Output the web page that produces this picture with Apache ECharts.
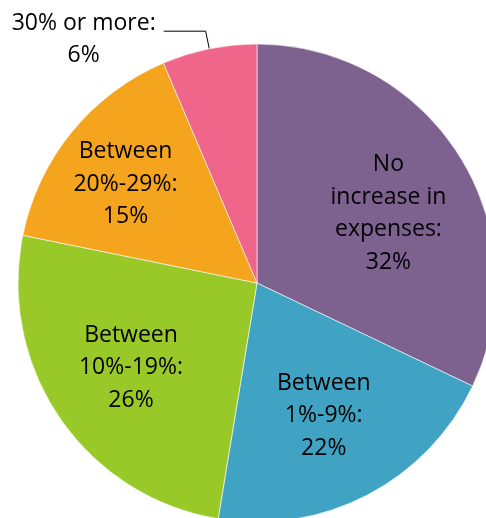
<!DOCTYPE html>
<html>
<head>
<meta charset="utf-8">
<script src="https://cdn.jsdelivr.net/npm/echarts@6/dist/echarts.min.js"></script>
<style>html,body{margin:0;padding:0;background:#fff;}#c{width:486px;height:518px;}</style>
</head>
<body>
<div id="c"></div>
<script>
// Categories (label text) as shown in the chart
var categories = ['No\nincrease in\nexpenses:', 'Between\n1%-9%:', 'Between\n10%-19%:', 'Between\n20%-29%:', '30% or more:'];
// Percent labels as printed
var labelPct = ['32%', '22%', '26%', '15%', '6%'];
// Slice sizes as drawn (measured from slice angles)
var sliceValues = [32.1, 20.5, 25.6, 15.4, 6.4];
var colors = ['#7D6290', '#41A3C3', '#99C829', '#F5A51D', '#F0658A'];
// small label nudges [dx, dy] (style only)
var labelNudge = [[2, 12], [-4, -3], [0, -2], [-13, -2], [0, 0]];

var font = 'Open Sans';
var chart = echarts.init(document.getElementById('c'), null, {renderer: 'canvas'});

var mainData = sliceValues.map(function (v, i) {
  var d = {value: v, name: categories[i], itemStyle: {color: colors[i]}};
  if (i === 4) {
    d.label = {
      show: true,
      position: 'outside',
      formatter: '{a|\u00a0}\n{a|' + categories[i] + '}\n{a|' + labelPct[i] + '}',
      padding: [0, 0, 16, 0],
      rich: {a: {width: 150, align: 'center', fontFamily: font, fontSize: 23, lineHeight: 32, color: '#000'}}
    };
    d.labelLine = {show: true, length: 18, length2: 42, lineStyle: {color: '#000', width: 1}};
  }
  return d;
});

var overlayData = sliceValues.map(function (v, i) {
  return {
    value: v,
    name: categories[i],
    itemStyle: {color: 'rgba(0,0,0,0)'},
    label: {show: i !== 4, formatter: categories[i] + '\n' + labelPct[i]}
  };
});

chart.setOption({
  animation: false,
  backgroundColor: '#fff',
  series: [
    {
      type: 'pie',
      center: [257, 283],
      radius: 239,
      startAngle: 90,
      clockwise: true,
      avoidLabelOverlap: false,
      silent: true,
      itemStyle: {borderColor: '#fff', borderWidth: 0.6},
      label: {show: false},
      labelLine: {show: false},
      data: mainData
    },
    {
      type: 'pie',
      center: [257, 283],
      radius: 300,
      startAngle: 90,
      clockwise: true,
      avoidLabelOverlap: false,
      silent: true,
      z: 5,
      label: {
        show: true,
        position: 'inside',
        fontFamily: font,
        fontSize: 23,
        lineHeight: 32.5,
        color: '#000',
        align: 'center'
      },
      labelLine: {show: false},
      labelLayout: function (params) {
        var n = labelNudge[params.dataIndex] || [0, 0];
        return {dx: n[0], dy: n[1]};
      },
      data: overlayData
    }
  ]
});
</script>
</body>
</html>
